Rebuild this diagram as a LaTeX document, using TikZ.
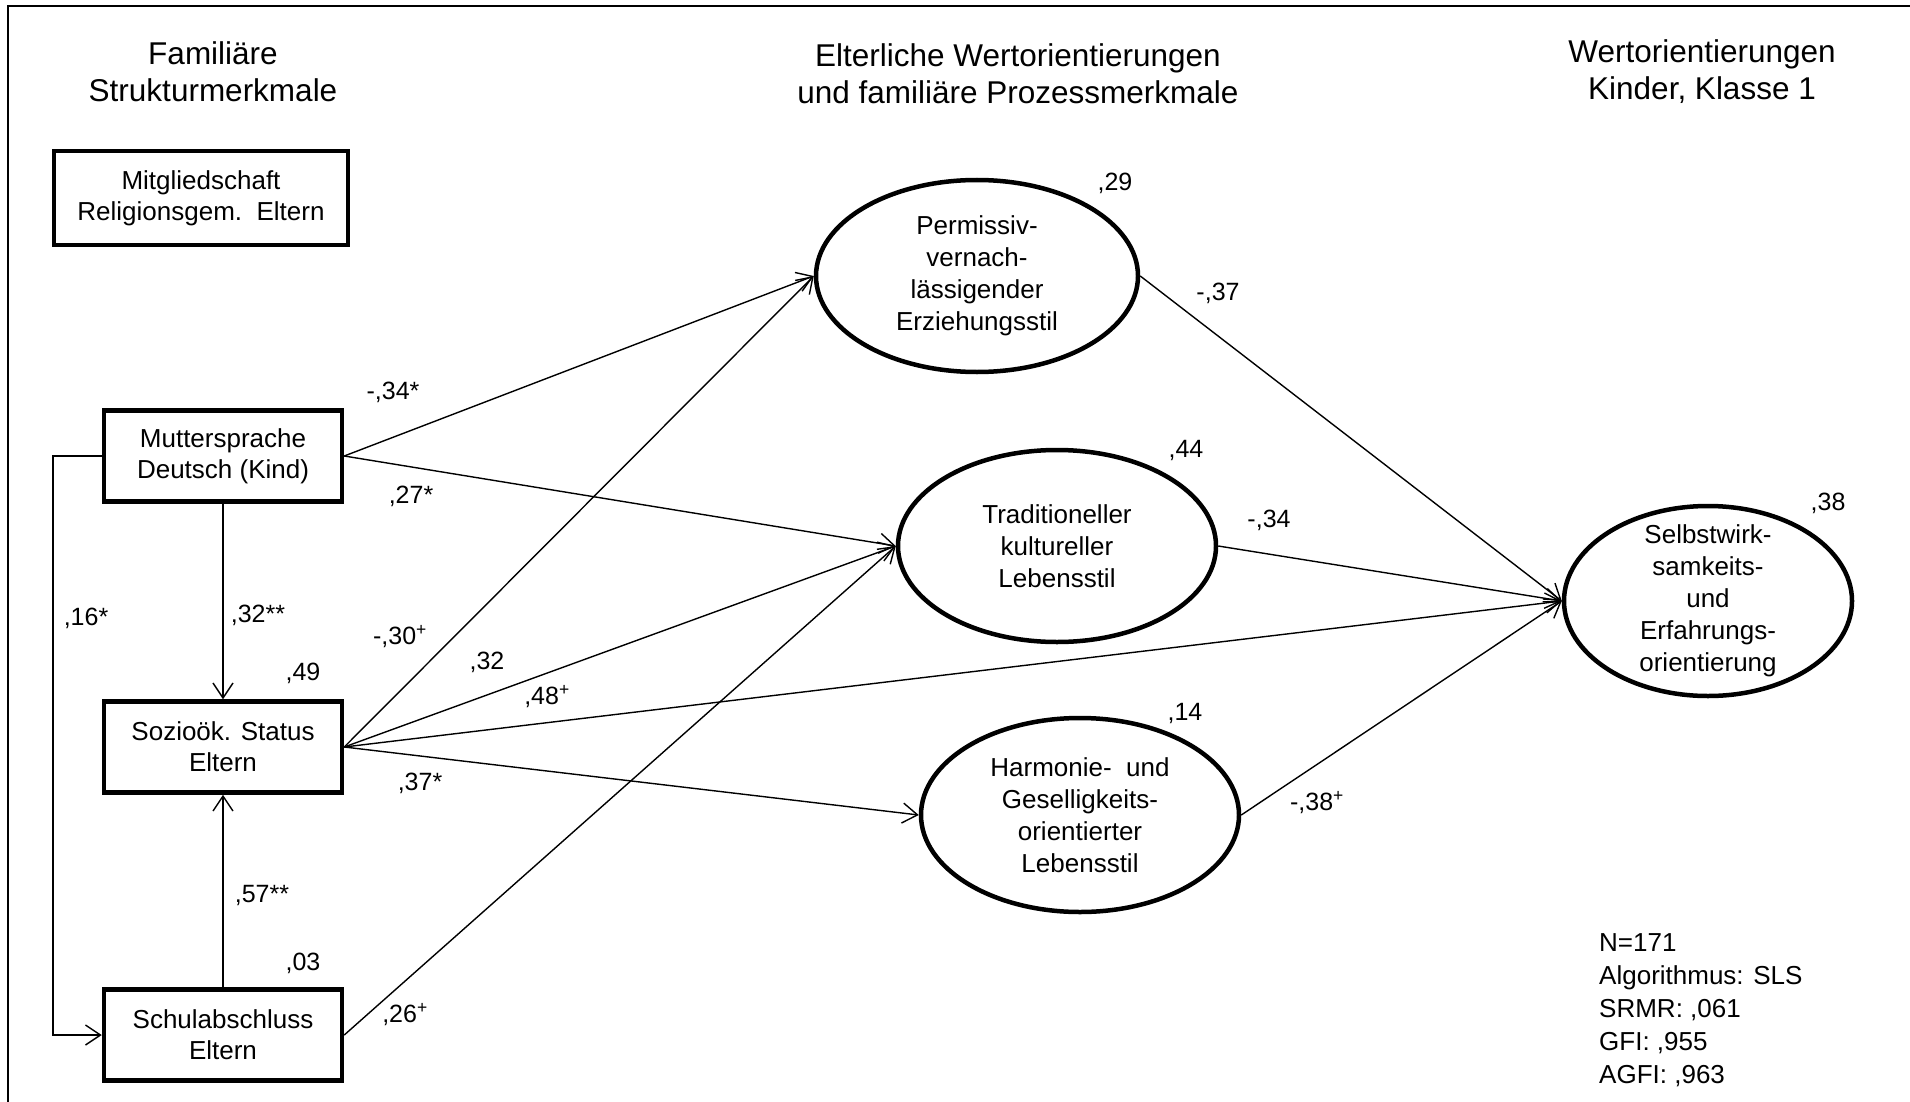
\documentclass[tikz,border=0pt]{standalone}
\usepackage{fontspec}
\setmainfont{Liberation Sans}
\usetikzlibrary{arrows.meta,shapes.geometric}
\begin{document}
\begin{tikzpicture}[x=1pt,y=-1pt,
  box/.style={draw, line width=4.5pt, minimum width=238pt, minimum height=91pt,
    inner sep=0pt, align=center, font=\fontsize{26}{31}\selectfont},
  ell/.style={draw, ellipse, line width=4.5pt, inner sep=0pt},
  etext/.style={align=center, inner sep=0pt, font=\fontsize{26}{32}\selectfont},
  head/.style={align=center, inner sep=0pt, font=\fontsize{31.5}{37}\selectfont},
  coef/.style={inner sep=0pt, font=\fontsize{25}{25}\selectfont},
  conn/.style={line width=1.4pt, -{Straight Barb[length=15pt,width=20pt,line width=1.4pt]}},
  ]
\useasboundingbox (0,0) rectangle (1910,1102);
\clip (0,0) rectangle (1910,1102);
\draw[line width=2.5pt] (8,6) rectangle (1930,1120);

% column headings
\node[head] (h1) at (213,72) {Familiäre\\Strukturmerkmale};
\node[head] (h2) at (1018,74) {Elterliche Wertorientierungen\\und familiäre Prozessmerkmale};
\node[head] (h3) at (1702,72) {Wertorientierungen\\Kinder, Klasse 1};

% observed variables
\node[box, minimum width=294pt, minimum height=94pt] (mitglied) at (201,198) {Mitgliedschaft\\Religionsgem.\ \ Eltern};
\node[box] (mutter) at (223,456) {Muttersprache\\Deutsch (Kind)};
\node[box] (sozio) at (223,747) {Sozioök. Status\\Eltern};
\node[box] (schul) at (223,1035) {Schulabschluss\\Eltern};

% latent variables
\node[ell, minimum width=322pt, minimum height=192pt] (perm) at (977,276) {};
\node[etext] (permt) at (perm) {Permissiv-\\vernach-\\lässigender\\Erziehungsstil};
\node[ell, minimum width=318pt, minimum height=192pt] (trad) at (1057,546) {};
\node[etext] (tradt) at (trad) {Traditioneller\\kultureller\\Lebensstil};
\node[ell, minimum width=318pt, minimum height=194pt] (harm) at (1080,815) {};
\node[etext] (harmt) at (harm) {Harmonie-\ \ und\\Geselligkeits-\\orientierter\\Lebensstil};
\node[ell, minimum width=288pt, minimum height=190pt] (selbst) at (1708,601) {};
\node[etext] (selbstt) at (selbst) {Selbstwirk-\\samkeits-\\und\\Erfahrungs-\\orientierung};

% paths
\coordinate (lk) at (53,0);
\draw[conn] (mutter.west) -- (mutter.west -| lk) -- (schul.west -| lk) -- (schul.west);
\draw[conn] (mutter.south) -- (sozio.north);
\draw[conn] (schul.north) -- (sozio.south);
\draw[conn] (mutter.east) -- (perm.west);
\draw[conn] (mutter.east) -- (trad.west);
\draw[conn] (sozio.east) -- (perm.west);
\draw[conn] (sozio.east) -- (trad.west);
\draw[conn] (sozio.east) -- (selbst.west);
\draw[conn] (sozio.east) -- (harm.west);
\draw[conn] (schul.east) -- (trad.west);
\draw[conn] (perm.east) -- (selbst.west);
\draw[conn] (trad.east) -- (selbst.west);
\draw[conn] (harm.east) -- (selbst.west);

% path coefficients
\node[coef] (k1) at (393,392) {-,34*};
\node[coef] (k2) at (411,496) {,27*};
\node[coef] (k3) at (258,615) {,32**};
\node[coef] (k4) at (86,618) {,16*};
\node[coef] (k5) at (400,637) {-,30\textsuperscript{+}};
\node[coef] (k6) at (487,662) {,32};
\node[coef] (k7) at (547,697) {,48\textsuperscript{+}};
\node[coef] (k8) at (420,783) {,37*};
\node[coef] (k9) at (262,895) {,57**};
\node[coef] (k10) at (405,1015) {,26\textsuperscript{+}};
\node[coef] (k11) at (1218,293) {-,37};
\node[coef] (k12) at (1269,520) {-,34};
\node[coef] (k13) at (1317,803) {-,38\textsuperscript{+}};

% explained variance
\node[coef] (r1) at (303,673) {,49};
\node[coef] (r2) at (303,963) {,03};
\node[coef] (r3) at (1115,183) {,29};
\node[coef] (r4) at (1186,450) {,44};
\node[coef] (r5) at (1185,713) {,14};
\node[coef] (r6) at (1828,503) {,38};

% fit statistics
\node[anchor=west, align=left, inner sep=0pt, font=\fontsize{26}{33}\selectfont] (fit) at (1599,1010)
  {N=171\\Algorithmus: SLS\\SRMR: ,061\\GFI: ,955\\AGFI: ,963};
\end{tikzpicture}
\end{document}
